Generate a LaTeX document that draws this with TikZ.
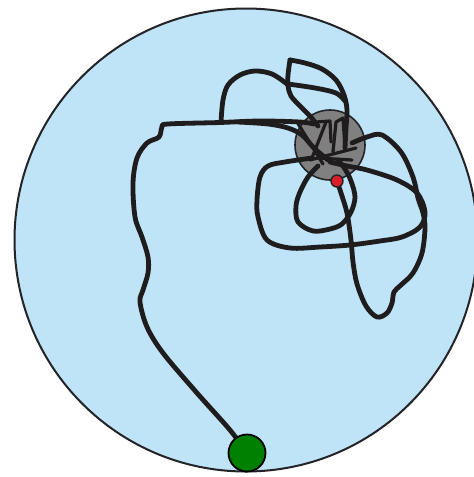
\documentclass[tikz,border=0pt]{standalone}
\begin{document}
\begin{tikzpicture}[x=1pt,y=-1pt,
  track/.style={line width=4.8pt, draw={rgb,255:red,30;green,28;blue,28}, line cap=round, line join=round},
  thin track/.style={line width=3.2pt, draw={rgb,255:red,30;green,28;blue,28}, line cap=round, line join=round}]
\definecolor{arenablue}{RGB}{191,228,247}
\definecolor{rim}{RGB}{35,35,40}
\definecolor{targetgray}{RGB}{128,128,128}
\definecolor{startgreen}{RGB}{0,128,0}
\definecolor{goalred}{RGB}{220,30,40}
\useasboundingbox (0,0) rectangle (474,477);
\clip (0,0) rectangle (474,477);
\node[circle, draw=rim, line width=2pt, fill=arenablue, minimum size=463pt, inner sep=0pt] (arena) at (246,240) {};
\node[circle, draw=rim, line width=1.6pt, fill=targetgray, minimum size=70pt, inner sep=0pt] (target) at (330,145) {};
\coordinate (s) at (247,453);
\coordinate (g) at (337,181);
% main path from the start
\draw[track] (246,468) -- (s);
\draw[track] plot[smooth, tension=0.55] coordinates {(s) (230,430) (197,393) (163,353) (147,327) (140,302) (143,290) (148,273) (148,257) (142,237) (135,217) (133,183) (137,158) (147,143) (159,137) (162,127) (168,124) (220,122.5) (260,121) (300,122) (314,124)};
\draw[track] plot[smooth, tension=0.55] coordinates {(238,122) (268,124) (288,128) (302,135) (314,148) (328,160)};
% bump and flag
\draw[track] plot[smooth, tension=0.55] coordinates {(221,122) (223,100) (228,85) (240,75) (255,71) (272,74) (287,84)};
\draw[track] plot[smooth, tension=0.55] coordinates {(290,60) (288,75) (288,86) (291,96) (300,106) (310,116) (318,126)};
\draw[track] plot[smooth, tension=0.55] coordinates {(290,60) (305,63) (322,69) (336,80) (344,95) (347,110) (346,128) (345,148)};
\draw[track] plot[smooth, tension=0.55] coordinates {(288,84) (315,88) (336,93) (345,101)};
% lines inside the target
\draw[thin track] (316,122) -- (330,121) -- (331,142);
\draw[thin track] (333,152) -- (336,122) -- (343,118) -- (345,148);
\draw[thin track] (297,122) -- (323,164);
\draw[thin track] (310,160) -- (356,148);
\draw[thin track] (318,158) -- (352,160);
\draw[thin track] (326,122) -- (312,158);
% big loop
\draw[track] plot[smooth, tension=0.55] coordinates {(312,158) (285,162) (268,166) (260,177) (257,200) (258,217) (267,240) (290,248) (320,247) (350,245) (380,241) (402,237) (420,227) (425,212) (417,193) (397,180) (367,170) (347,166) (330,162)};
% small loop
\draw[track] plot[smooth, tension=0.55] coordinates {(318,166) (308,177) (300,192) (296,206) (298,222) (313,231) (330,229) (342,224) (351,212) (355,197) (351,181) (345,169) (338,160)};
% right loop through the goal
\draw[track] plot[smooth, tension=0.55] coordinates {(g) (341,193) (347,213) (351,240) (353,262) (357,284) (366,306) (377,317) (387,313) (392,303) (394,292) (401,285) (413,273) (422,253) (425,228) (423,213) (418,198) (413,177) (401,152) (382,135) (367,137) (352,143)};
% markers
\node[circle, draw=rim, line width=1.4pt, fill=goalred, minimum size=12pt, inner sep=0pt] (goal) at (g) {};
\node[circle, draw=black, line width=1.8pt, fill=startgreen, minimum size=37pt, inner sep=0pt] (start) at (s) {};
\end{tikzpicture}
\end{document}
